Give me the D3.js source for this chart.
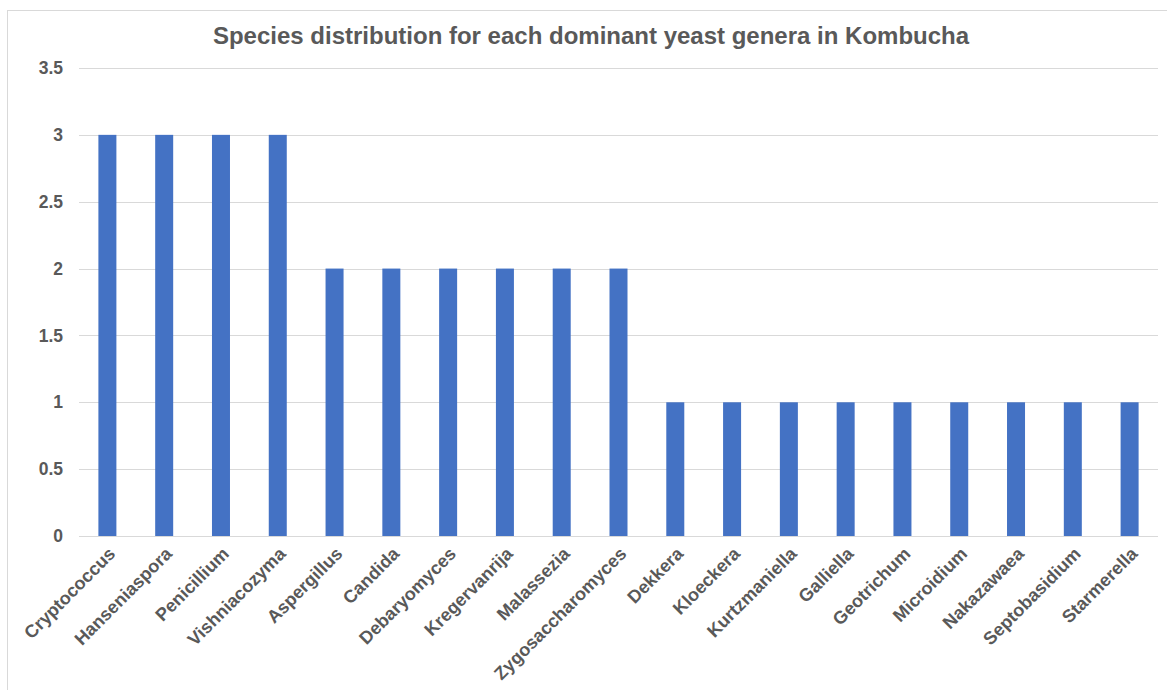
<!DOCTYPE html>
<html>
<head>
<meta charset="utf-8">
<script src="https://cdn.jsdelivr.net/npm/d3@7"></script>
<style>
  html, body { margin: 0; padding: 0; background: #fff; }
  svg { display: block; }
  text { font-family: "Liberation Sans", Arial, sans-serif; }
</style>
</head>
<body>
<svg id="chart" width="1167" height="690"></svg>
<script>
// Genera and number of species found for each
const genera = [
  "Cryptococcus", "Hanseniaspora", "Penicillium", "Vishniacozyma",
  "Aspergillus", "Candida", "Debaryomyces", "Kregervanrija", "Malassezia",
  "Zygosaccharomyces", "Dekkera", "Kloeckera", "Kurtzmaniella", "Galliella",
  "Geotrichum", "Microidium", "Nakazawaea", "Septobasidium", "Starmerella"
];
const speciesCount = [3, 3, 3, 3, 2, 2, 2, 2, 2, 2, 1, 1, 1, 1, 1, 1, 1, 1, 1];
const yTicks = [0, 0.5, 1, 1.5, 2, 2.5, 3, 3.5];
const chartTitle = "Species distribution for each dominant yeast genera in Kombucha";

const svg = d3.select("#chart");
const W = 1167, H = 690;
const margin = { left: 79, right: 9, top: 68, bottom: 154 };
const plotW = W - margin.left - margin.right;
const plotH = H - margin.top - margin.bottom;

// Outer chart frame
svg.append("rect")
  .attr("x", 7.5).attr("y", 10.5)
  .attr("width", W + 10).attr("height", H + 10)
  .attr("fill", "#fff").attr("stroke", "#d9d9d9").attr("stroke-width", 1);

const x = d3.scaleBand().domain(genera).range([0, plotW]).paddingInner(0.683).paddingOuter(0.3415);
const y = d3.scaleLinear().domain([0, 3.5]).range([plotH, 0]);

const g = svg.append("g").attr("transform", `translate(${margin.left},${margin.top})`);

// Gridlines
g.append("g")
  .selectAll("line")
  .data(yTicks.filter(t => t > 0))
  .join("line")
  .attr("x1", 0).attr("x2", plotW)
  .attr("y1", d => Math.round(y(d)) + 0.5).attr("y2", d => Math.round(y(d)) + 0.5)
  .attr("stroke", "#d9d9d9").attr("stroke-width", 1);

// Y axis labels
const yAxis = d3.axisLeft(y).tickValues(yTicks).tickSize(0).tickPadding(16)
  .tickFormat(d => String(d));
g.append("g").call(yAxis)
  .call(a => a.select(".domain").remove())
  .selectAll("text")
  .attr("fill", "#595959")
  .style("font-size", "17.5px")
  .style("font-weight", "bold");

// Bars
g.append("g")
  .selectAll("rect")
  .data(genera.map((name, i) => ({ name, value: speciesCount[i] })))
  .join("rect")
  .attr("x", d => x(d.name))
  .attr("y", d => y(d.value))
  .attr("width", x.bandwidth())
  .attr("height", d => y(0) - y(d.value))
  .attr("fill", "#4472c4");

// X axis
const xAxis = d3.axisBottom(x).tickSize(0).tickPadding(0);
const xg = g.append("g").attr("transform", `translate(0,${plotH})`).call(xAxis);
xg.select(".domain").attr("stroke", "#d9d9d9").attr("d", `M0,0.5H${plotW}`);
xg.selectAll("text")
  .attr("fill", "#595959")
  .style("font-size", "18px")
  .style("font-weight", "bold")
  .attr("text-anchor", "end")
  .attr("dy", null)
  .attr("y", 0)
  .attr("transform", "translate(9,19) rotate(-45)");

// Title
svg.append("text")
  .attr("x", 591).attr("y", 44)
  .attr("text-anchor", "middle")
  .attr("fill", "#595959")
  .style("font-size", "24px")
  .style("font-weight", "bold")
  .text(chartTitle);
</script>
</body>
</html>
